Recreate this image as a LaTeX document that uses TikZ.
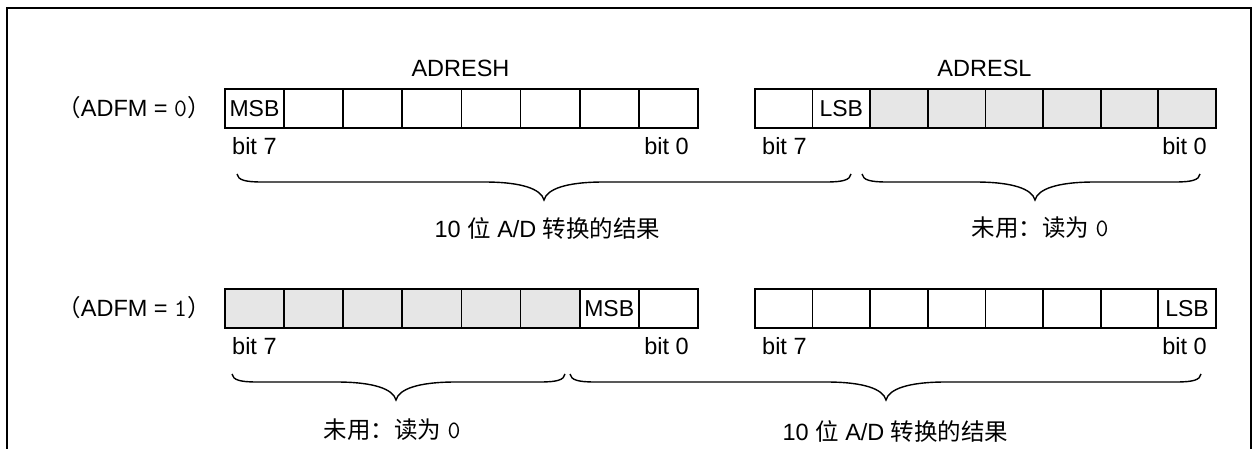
\documentclass[tikz,border=0pt]{standalone}
\usepackage{fontspec}
\setmainfont{Liberation Sans}
\newfontfamily\cjk{Noto Sans CJK SC}
\newcommand\monof{\ttfamily}
\definecolor{unused}{HTML}{E6E6E6}
\newcommand\mybrace[4]{%
  \draw[braceline] (#1,#4-8) .. controls (#1+1,#4-2) and (#1+8,#4) .. (#1+25,#4)
    -- (#3-60,#4) .. controls (#3-22,#4) and (#3-3,#4+7) .. (#3,#4+18)
    .. controls (#3+3,#4+7) and (#3+22,#4) .. (#3+60,#4)
    -- (#2-25,#4) .. controls (#2-8,#4) and (#2-1,#4-2) .. (#2,#4-8);}
\begin{document}
\begin{tikzpicture}[x=1pt,y=-1pt,
  cell/.style={draw=black, line width=1.8pt, minimum width=#1, minimum height=39pt,
    inner sep=0pt, anchor=north west, font=\fontsize{23}{26}\selectfont},
  lbl/.style={inner sep=0pt, font=\fontsize{23.5}{27}\selectfont},
  braceline/.style={draw=black, line width=1.4pt},
  frameline/.style={draw=black, line width=2pt}]
\useasboundingbox (0,0) rectangle (1255,449);
% frame
\draw[frameline] (7,470) -- (7,8) -- (1251,8) -- (1251,470);
% register titles
\node[lbl] (tH) at (460.5,68) {ADRESH};
\node[lbl] (tL) at (984.5,68) {ADRESL};
% ADFM labels
\node[lbl] (m0) at (134,108) {{\cjk （}ADFM = {\monof\fontsize{25}{27}\selectfont 0}{\cjk ）}};
\node[lbl] (m1) at (134,308) {{\cjk （}ADFM = {\monof\fontsize{25}{27}\selectfont 1}{\cjk ）}};
% row 1 ADRESH
\foreach \i/\f/\t in {0/white/MSB,1/white/,2/white/,3/white/,4/white/,5/white/,6/white/,7/white/}
  \node[cell=59.125pt, fill=\f] (a\i) at ({224+59.125*\i},88) {\t};
% row 1 ADRESL
\foreach \i/\f/\t in {0/white/,1/white/LSB,2/unused/,3/unused/,4/unused/,5/unused/,6/unused/,7/unused/}
  \node[cell=57.625pt, fill=\f] (b\i) at ({754+57.625*\i},88) {\t};
% row 2 ADRESH
\foreach \i/\f/\t in {0/unused/,1/unused/,2/unused/,3/unused/,4/unused/,5/unused/,6/white/MSB,7/white/}
  \node[cell=59.125pt, fill=\f] (c\i) at ({224+59.125*\i},288) {\t};
% row 2 ADRESL
\foreach \i/\f/\t in {0/white/,1/white/,2/white/,3/white/,4/white/,5/white/,6/white/,7/white/LSB}
  \node[cell=57.625pt, fill=\f] (d\i) at ({754+57.625*\i},288) {\t};
% bit labels
\node[lbl, anchor=west] (a7l) at (232,146) {bit 7};
\node[lbl, anchor=east] (a0l) at (689,146) {bit 0};
\node[lbl, anchor=west] (b7l) at (762,146) {bit 7};
\node[lbl, anchor=east] (b0l) at (1207,146) {bit 0};
\node[lbl, anchor=west] (c7l) at (232,346) {bit 7};
\node[lbl, anchor=east] (c0l) at (689,346) {bit 0};
\node[lbl, anchor=west] (d7l) at (762,346) {bit 7};
\node[lbl, anchor=east] (d0l) at (1207,346) {bit 0};
% braces
\mybrace{237}{851}{544}{182}
\mybrace{862}{1200}{1035}{182}
\mybrace{232}{565}{396}{382}
\mybrace{570}{1201}{886}{382}
% brace texts
\node[lbl] (r1) at (547.5,228) {10 {\cjk 位} A/D {\cjk 转换的结果}};
\node[lbl] (u1) at (1040,228) {{\cjk 未用：读为} {\monof\fontsize{25}{27}\selectfont 0}};
\node[lbl] (u2) at (392,430) {{\cjk 未用：读为} {\monof\fontsize{25}{27}\selectfont 0}};
\node[lbl] (r2) at (895.5,431) {10 {\cjk 位} A/D {\cjk 转换的结果}};
\end{tikzpicture}
\end{document}
